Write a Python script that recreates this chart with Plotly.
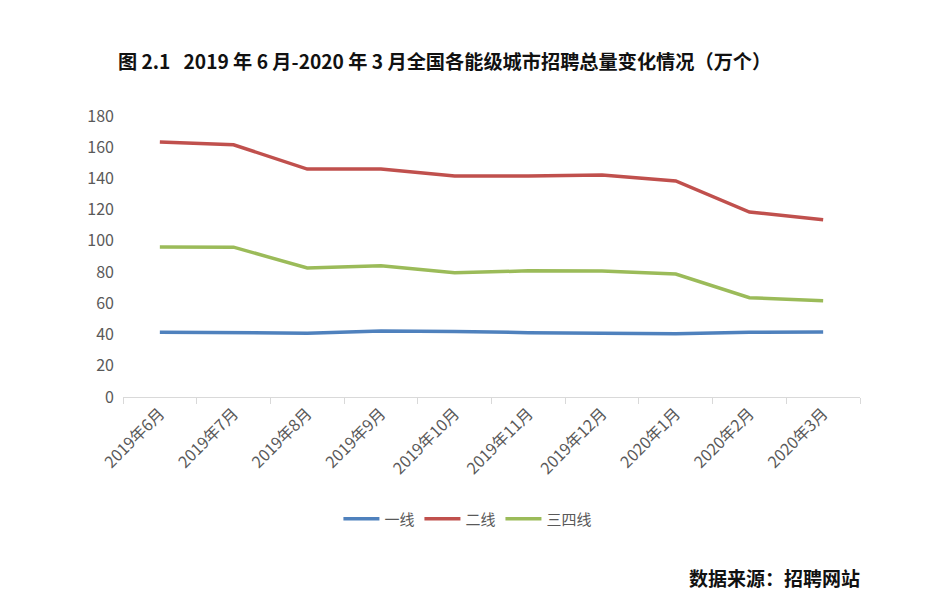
import plotly.graph_objects as go

months = ["2019年6月", "2019年7月", "2019年8月", "2019年9月", "2019年10月",
          "2019年11月", "2019年12月", "2020年1月", "2020年2月", "2020年3月"]
tier1 = [41.5, 41.4, 40.9, 42.2, 42.0, 41.2, 41.1, 40.5, 41.4, 41.6]
tier2 = [163.4, 161.6, 146.0, 146.0, 141.6, 141.6, 142.2, 138.4, 118.5, 113.6]
tier34 = [96.1, 96.0, 82.6, 84.0, 79.6, 80.8, 80.7, 78.8, 63.6, 61.6]

series = [("一线", tier1, "#4F81BD"),
          ("二线", tier2, "#C0504D"),
          ("三四线", tier34, "#9BBB59")]

fig = go.Figure()
for name, vals, color in series:
    fig.add_trace(go.Scatter(x=months, y=vals, name=name, mode="lines",
                             line=dict(color=color, width=3.5)))

# the page body adds 8px around the figure, so size it to fit the window
W, H = 910, 598
fig.update_layout(
    width=W, height=H,
    paper_bgcolor="white", plot_bgcolor="white",
    margin=dict(l=115, r=58, t=108, b=209, autoexpand=False),
    font=dict(family="Noto Sans CJK SC, sans-serif", size=15, color="#595959"),
    title=dict(text="<b>图 2.1   2019 年 6 月-2020 年 3 月全国各能级城市招聘总量变化情况（万个）</b>",
               x=110 / W, xanchor="left", y=1 - 54 / H, yanchor="middle",
               font=dict(size=19.2, color="#111111")),
    showlegend=True,
    legend=dict(orientation="h", x=0.468, xanchor="center", y=-0.434, yanchor="middle",
                font=dict(size=15, color="#595959"), itemwidth=36,
                tracegroupgap=0),
)

fig.update_xaxes(range=[-0.5, 9.5], automargin=False,
                 showgrid=False, showline=True, linecolor="#D9D9D9", linewidth=1,
                 ticks="outside", tickson="boundaries", tickcolor="#D9D9D9",
                 ticklen=6, tickangle=-45, tickfont=dict(size=16, color="#595959"))
fig.update_yaxes(range=[0, 180], dtick=20, automargin=False,
                 showgrid=False, showline=False, zeroline=False,
                 ticklabelstandoff=8,
                 tickfont=dict(size=16, color="#595959"))

fig.add_annotation(text="<b>数据来源：招聘网站</b>", xref="paper", yref="paper",
                   x=1.003, xanchor="right", y=-0.644, yanchor="middle",
                   showarrow=False, font=dict(size=19, color="#111111"))

fig.write_html("out.html")
